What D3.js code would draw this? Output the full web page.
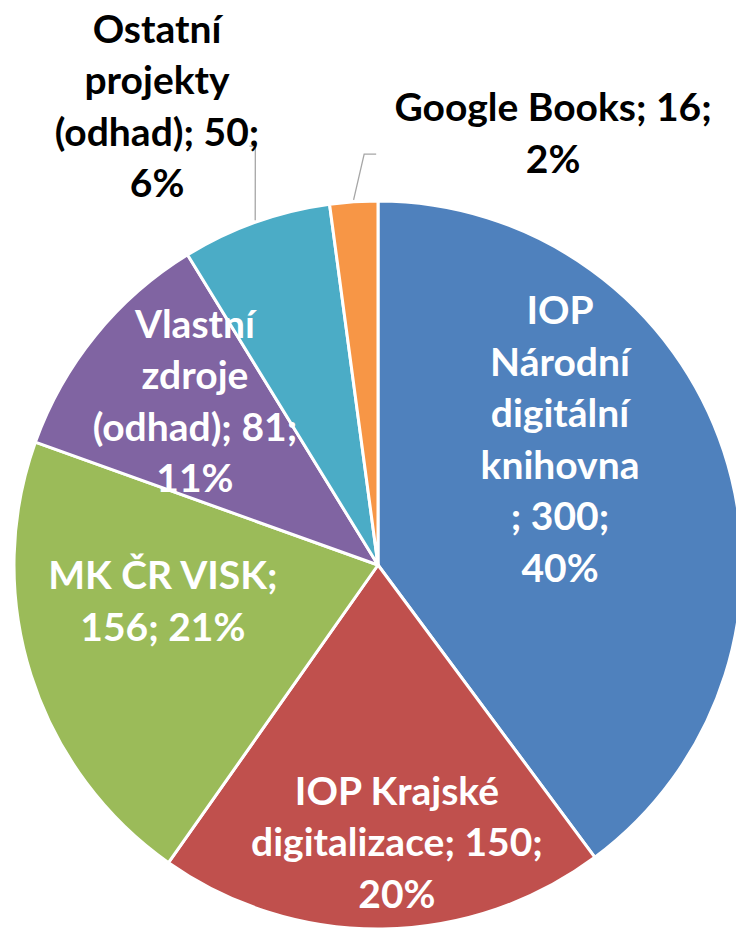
<!DOCTYPE html>
<html lang="cs">
<head>
  <meta charset="utf-8">
  <title>Digitalizace - zdroje</title>
  <script src="https://d3js.org/d3.v7.min.js"></script>
  <style>
    body { margin: 0; background: #fff; }
    .label {
      font-family: Lato, "Open Sans", sans-serif;
      font-weight: bold;
      font-size: 39px;
      text-anchor: middle;
    }
    .leader { fill: none; stroke: #a6a6a6; stroke-width: 1.3px; }
  </style>
</head>
<body>
  <div id="chart"></div>
  <script>
    // data
    var categories = ["IOP Národní digitální knihovna", "IOP Krajské digitalizace", "MK ČR VISK",
                      "Vlastní zdroje (odhad)", "Ostatní projekty (odhad)", "Google Books"];
    var values = [300, 150, 156, 81, 50, 16];
    var percents = ["40%", "20%", "21%", "11%", "6%", "2%"];
    // label text as wrapped in the chart
    var labelLines = [
      ["IOP", "Národní", "digitální", "knihovna", "; 300;", "40%"],
      ["IOP Krajské", "digitalizace; 150;", "20%"],
      ["MK ČR VISK;", "156; 21%"],
      ["Vlastní", "zdroje", "(odhad); 81;", "11%"],
      ["Ostatní", "projekty", "(odhad); 50;", "6%"],
      ["Google Books; 16;", "2%"]
    ];

    var colors = ["#4f81bd", "#c0504d", "#9bbb59", "#8064a2", "#4bacc6", "#f79646"];
    // label centre, in units of radius from pie centre
    var labelPos = [[0.50, -0.343], [0.052, 0.764], [-0.591, 0.102],
                    [-0.503, -0.448], [-0.607, -1.258], [0.481, -1.184]];
    var outside = [false, false, false, false, true, true];
    // leader elbow (radius units) and horizontal tail (px)
    var leaders = { 4: {elbow: [-0.337, -1.151], tail: -6}, 5: {elbow: [-0.038, -1.129], tail: 12} };

    var width = 736, height = 929,
        cx = 378, cy = 565, radius = 364,
        lineH = 51.5;

    var svg = d3.select("#chart").append("svg")
      .attr("width", width)
      .attr("height", height);

    var g = svg.append("g").attr("transform", "translate(" + cx + "," + cy + ")");

    var pie = d3.pie().sort(null).value(function(d) { return d; });
    var arcs = pie(values);
    var arc = d3.arc().innerRadius(0).outerRadius(radius);

    g.selectAll("path.slice")
      .data(arcs)
      .enter()
      .append("path")
        .attr("class", "slice")
        .attr("d", arc)
        .attr("fill", function(d, i) { return colors[i]; })
        .attr("stroke", "#fff")
        .attr("stroke-width", 3)
        .attr("stroke-linejoin", "round");

    // leader lines for outside labels
    arcs.forEach(function(d, i) {
      if (!leaders[i]) return;
      var a = (d.startAngle + d.endAngle) / 2,
          r0 = radius + 2;
      var p0 = [r0 * Math.sin(a), -r0 * Math.cos(a)];
      var p1 = [leaders[i].elbow[0] * radius, leaders[i].elbow[1] * radius];
      var p2 = [p1[0] + leaders[i].tail, p1[1]];
      g.append("path")
        .attr("class", "leader")
        .attr("d", d3.line()([p0, p1, p2]));
    });

    var label = g.selectAll("text.label")
      .data(arcs)
      .enter()
      .append("text")
        .attr("class", "label")
        .attr("fill", function(d, i) { return outside[i] ? "#000" : "#fff"; })
        .attr("x", function(d, i) { return labelPos[i][0] * radius; })
        .attr("y", function(d, i) {
          var n = labelLines[i].length;
          return labelPos[i][1] * radius - (n - 1) * lineH / 2 + 13;
        });

    label.each(function(d, i) {
      var t = d3.select(this), x = labelPos[i][0] * radius;
      labelLines[i].forEach(function(s, k) {
        t.append("tspan")
          .attr("x", x)
          .attr("dy", k === 0 ? 0 : lineH)
          .text(s);
      });
    });
  </script>
</body>
</html>
